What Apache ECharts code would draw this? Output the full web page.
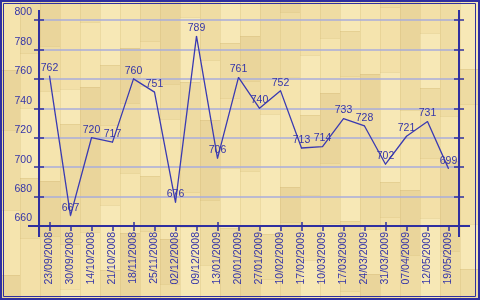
<!DOCTYPE html>
<html><head><meta charset="utf-8">
<script src="https://cdn.jsdelivr.net/npm/echarts@6/dist/echarts.min.js"></script>
<style>html,body{margin:0;padding:0;background:#f3e0a6;}#c{width:480px;height:300px;}</style>
</head><body><div id="c"></div>
<script>
const categories = ['23/09/2008','30/09/2008','14/10/2008','21/10/2008','18/11/2008','25/11/2008','02/12/2008','09/12/2008','13/01/2009','20/01/2009','27/01/2009','10/02/2009','17/02/2009','10/03/2009','17/03/2009','24/03/2009','31/03/2009','07/04/2009','12/05/2009','19/05/2009'];
const values = [762,667,720,717,760,751,676,789,706,761,740,752,713,714,733,728,702,721,731,699];
const yMin = 660, yMax = 800, yStep = 20;

const BLUE = '#2f2f9f';
const TEXT = '#3535a8';
const FONT = 'Liberation Sans';
const G = {left:39, right:21, top:20, bottom:74};

function woodCanvas(){
  const cv=document.createElement('canvas'); cv.width=480; cv.height=300;
  const ctx=cv.getContext('2d');
  const shades=['#f5e4ae','#eedba2','#ead59b','#f3e0a8','#efdca3','#f7e8b6'];
  const segs=[70,45,110,60,90,35,80,55,120,65];
  for(let c=0;c<24;c++){
    let y=-((c*37)%90);
    let k=c;
    while(y<300){
      const h=segs[(k*3+c)%segs.length];
      ctx.fillStyle=shades[(k*2+c*5)%shades.length];
      ctx.fillRect(c*20,y,20,h);
      ctx.fillStyle='rgba(205,175,105,0.25)';
      ctx.fillRect(c*20,y,1,h);
      ctx.fillRect(c*20,y,20,1);
      y+=h;k++;
    }
  }
  return cv;
}

const chart = echarts.init(document.getElementById('c'), null, {renderer:'canvas'});
const yBase = {type:'value', min:yMin, max:yMax, interval:yStep, splitLine:{show:false}, axisLabel:{show:false}, axisLine:{show:false, onZero:false}};
chart.setOption({
  backgroundColor: {image: woodCanvas(), repeat: 'no-repeat'},
  animation:false,
  grid:{left:G.left, right:G.right, top:G.top, bottom:G.bottom, containLabel:false},
  xAxis:[{
    type:'category', data:categories, boundaryGap:true, position:'bottom',
    axisLine:{show:true, onZero:false, lineStyle:{color:BLUE, width:2}},
    axisTick:{show:true, alignWithLabel:true, inside:false, length:5, lineStyle:{color:BLUE, width:1.5}},
    axisLabel:{show:true, rotate:90, interval:0, margin:6, color:TEXT, fontFamily:FONT, fontSize:10.5},
    splitLine:{show:false}
  },{
    type:'category', data:categories, boundaryGap:true, position:'bottom',
    axisLine:{show:false, onZero:false},
    axisTick:{show:true, alignWithLabel:true, inside:true, length:4, lineStyle:{color:BLUE, width:1.5}},
    axisLabel:{show:false}, splitLine:{show:false}
  }],
  yAxis:[
    Object.assign({}, yBase, {position:'left',
      axisLine:{show:true, onZero:false, lineStyle:{color:BLUE, width:2}},
      axisTick:{show:true, inside:false, length:5, lineStyle:{color:BLUE, width:1.5}},
      axisLabel:{show:true, margin:7, color:TEXT, fontFamily:FONT, fontSize:10.5, verticalAlign:'bottom', padding:[0,0,2,0]},
      splitLine:{show:true, lineStyle:{color:'#a9acdb', width:1.5}}}),
    Object.assign({}, yBase, {position:'left',
      axisTick:{show:true, inside:true, length:5, lineStyle:{color:BLUE, width:1.5}}}),
    Object.assign({}, yBase, {position:'right',
      axisLine:{show:true, onZero:false, lineStyle:{color:BLUE, width:2}},
      axisTick:{show:true, inside:false, length:5, lineStyle:{color:BLUE, width:1.5}}}),
    Object.assign({}, yBase, {position:'right',
      axisTick:{show:true, inside:true, length:5, lineStyle:{color:BLUE, width:1.5}}})
  ],
  series:[{
    type:'line', data:values, xAxisIndex:0, yAxisIndex:0,
    symbol:'circle', symbolSize:1, showSymbol:true,
    itemStyle:{color:'#3a3ab2'},
    lineStyle:{color:'#3a3ab2', width:1.3},
    label:{show:true, position:'top', distance:2, color:TEXT, fontFamily:FONT, fontSize:10.5}
  }],
  graphic:[
    {type:'rect', shape:{x:1, y:1, width:478, height:298}, style:{fill:null, stroke:BLUE, lineWidth:2}, silent:true},
    {type:'rect', shape:{x:3.5, y:3.5, width:472, height:293}, style:{fill:null, stroke:BLUE, lineWidth:1}, silent:true},
    {type:'line', shape:{x1:G.left, y1:G.top-10, x2:G.left, y2:300-G.bottom+11}, style:{stroke:BLUE, lineWidth:2}, silent:true},
    {type:'line', shape:{x1:480-G.right, y1:G.top-10, x2:480-G.right, y2:300-G.bottom+11}, style:{stroke:BLUE, lineWidth:2}, silent:true},
    {type:'line', shape:{x1:G.left-11, y1:300-G.bottom, x2:480-G.right+11, y2:300-G.bottom}, style:{stroke:BLUE, lineWidth:2}, silent:true}
  ]
});
</script>
</body></html>
